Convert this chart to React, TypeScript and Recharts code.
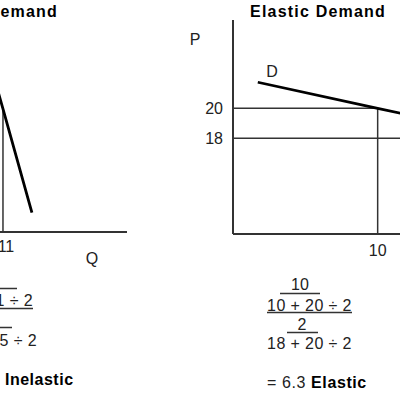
import { LineChart, Line, XAxis, YAxis, ReferenceLine } from "recharts";

// elastic demand (right panel)
const elasticQ = [1.3, 10, 20];
const elasticP = [21.74, 20, 18];
const elasticPriceTicks = [18, 20];
const elasticQtyTicks = [10];

// inelastic demand (left panel, mostly cut off)
const inelasticQ = [9.6, 11, 13.1];
const inelasticP = [24.5, 19.9, 12.9];
const inelasticQtyTicks = [11];

const elasticData = elasticQ.map((q, i) => ({ q, p: elasticP[i] }));
const inelasticData = inelasticQ.map((q, i) => ({ q, p: inelasticP[i] }));

const FONT = "'Liberation Sans', Arial, sans-serif";
const INK = "#222";
const LINE = "#333";

const tickStyle = { fill: INK, fontSize: 16, fontFamily: FONT };

export default function App() {
  return (
    <div
      style={{
        position: "absolute",
        left: 0,
        top: 0,
        width: 400,
        height: 400,
        overflow: "hidden",
        background: "#fff",
      }}
    >
      {/* Inelastic panel, shifted left so only its right part shows */}
      <div style={{ position: "absolute", left: -400, top: 0 }}>
        <LineChart
          width={527}
          height={400}
          data={inelasticData}
          margin={{ top: 20, right: 0, bottom: 138, left: 184.5 }}
        >
          <XAxis
            type="number"
            dataKey="q"
            domain={[-0.5, 20]}
            allowDataOverflow
            ticks={inelasticQtyTicks}
            tickLine={false}
            tickMargin={3}
            axisLine={{ stroke: LINE, strokeWidth: 2 }}
            tick={{ ...tickStyle, dx: 3 }}
          />
          <YAxis
            type="number"
            domain={[11.6, 25.9]}
            allowDataOverflow
            ticks={[]}
            width={60}
            axisLine={{ stroke: LINE, strokeWidth: 2 }}
            tickLine={false}
          />
          <ReferenceLine
            segment={[
              { x: 11, y: 19.9 },
              { x: 11, y: 11.6 },
            ]}
            stroke={LINE}
            strokeWidth={1.5}
          />
          <Line
            type="linear"
            dataKey="p"
            stroke="#000"
            strokeWidth={2.8}
            dot={false}
            isAnimationActive={false}
          />
        </LineChart>
      </div>

      {/* Elastic panel */}
      <div style={{ position: "absolute", left: 0, top: 0 }}>
        <LineChart
          width={543}
          height={400}
          data={elasticData}
          margin={{ top: 20, right: 0, bottom: 136, left: 173 }}
        >
          <XAxis
            type="number"
            dataKey="q"
            domain={[-0.5, 22]}
            allowDataOverflow
            ticks={elasticQtyTicks}
            tickLine={false}
            tickMargin={5}
            axisLine={{ stroke: LINE, strokeWidth: 2 }}
            tick={tickStyle}
          />
          <YAxis
            type="number"
            domain={[11.6, 25.9]}
            allowDataOverflow
            ticks={elasticPriceTicks}
            width={60}
            tickLine={false}
            tickMargin={4}
            axisLine={{ stroke: LINE, strokeWidth: 2 }}
            tick={tickStyle}
          />
          <ReferenceLine
            segment={[
              { x: -0.5, y: 20 },
              { x: 10, y: 20 },
            ]}
            stroke={LINE}
            strokeWidth={1.5}
          />
          <ReferenceLine
            segment={[
              { x: -0.5, y: 18 },
              { x: 22, y: 18 },
            ]}
            stroke={LINE}
            strokeWidth={1.5}
          />
          <ReferenceLine
            segment={[
              { x: 10, y: 20 },
              { x: 10, y: 11.6 },
            ]}
            stroke={LINE}
            strokeWidth={1.5}
          />
          <Line
            type="linear"
            dataKey="p"
            stroke="#000"
            strokeWidth={2.8}
            dot={false}
            isAnimationActive={false}
          />
        </LineChart>
      </div>

      {/* titles, axis names and the elasticity workings */}
      <svg
        width={400}
        height={400}
        style={{ position: "absolute", left: 0, top: 0, pointerEvents: "none" }}
        fontFamily={FONT}
        fontSize={16}
        fill={INK}
      >
        <text x={58} y={17} textAnchor="end" fontWeight="bold" fill="#000" letterSpacing={1.2}>
          Inelastic Demand
        </text>
        <text x={318} y={17} textAnchor="middle" fontWeight="bold" fill="#000" letterSpacing={1.2}>
          Elastic Demand
        </text>
        <text x={195} y={45} textAnchor="middle">P</text>
        <text x={272} y={77} textAnchor="middle">D</text>
        <text x={92} y={264} textAnchor="middle">Q</text>

        {/* inelastic workings */}
        <text x={-9.5} y={285} textAnchor="middle">1</text>
        <line x1={-37} x2={17} y1={288.5} y2={288.5} stroke={LINE} strokeWidth={1.5} />
        <text x={33} y={306} textAnchor="end" letterSpacing={0.4}>10 + 11 ÷ 2</text>
        <line x1={-52} x2={33} y1={308.5} y2={308.5} stroke={LINE} strokeWidth={1.5} />
        <text x={-8} y={324} textAnchor="middle">5</text>
        <line x1={-28} x2={12} y1={327.5} y2={327.5} stroke={LINE} strokeWidth={1.5} />
        <text x={37} y={346} textAnchor="end" letterSpacing={0.4}>20 + 15 ÷ 2</text>
        <text x={0} y={385} textAnchor="end" letterSpacing={0.5}>= 0.3</text>
        <text x={5} y={385} fontWeight="bold" fill="#000" letterSpacing={0.5}>Inelastic</text>

        {/* elastic workings */}
        <text x={300} y={290} textAnchor="middle">10</text>
        <line x1={280} x2={320} y1={293.5} y2={293.5} stroke={LINE} strokeWidth={1.5} />
        <text x={309.5} y={310.5} textAnchor="middle" letterSpacing={0.4}>10 + 20 ÷ 2</text>
        <line x1={267} x2={352} y1={312.5} y2={312.5} stroke={LINE} strokeWidth={1.5} />
        <text x={302} y={329.5} textAnchor="middle">2</text>
        <line x1={287} x2={318} y1={332.5} y2={332.5} stroke={LINE} strokeWidth={1.5} />
        <text x={309.5} y={349} textAnchor="middle" letterSpacing={0.4}>18 + 20 ÷ 2</text>
        <text x={267} y={388} letterSpacing={0.6}>
          = 6.3 <tspan fontWeight="bold" fill="#000">Elastic</tspan>
        </text>
      </svg>
    </div>
  );
}
